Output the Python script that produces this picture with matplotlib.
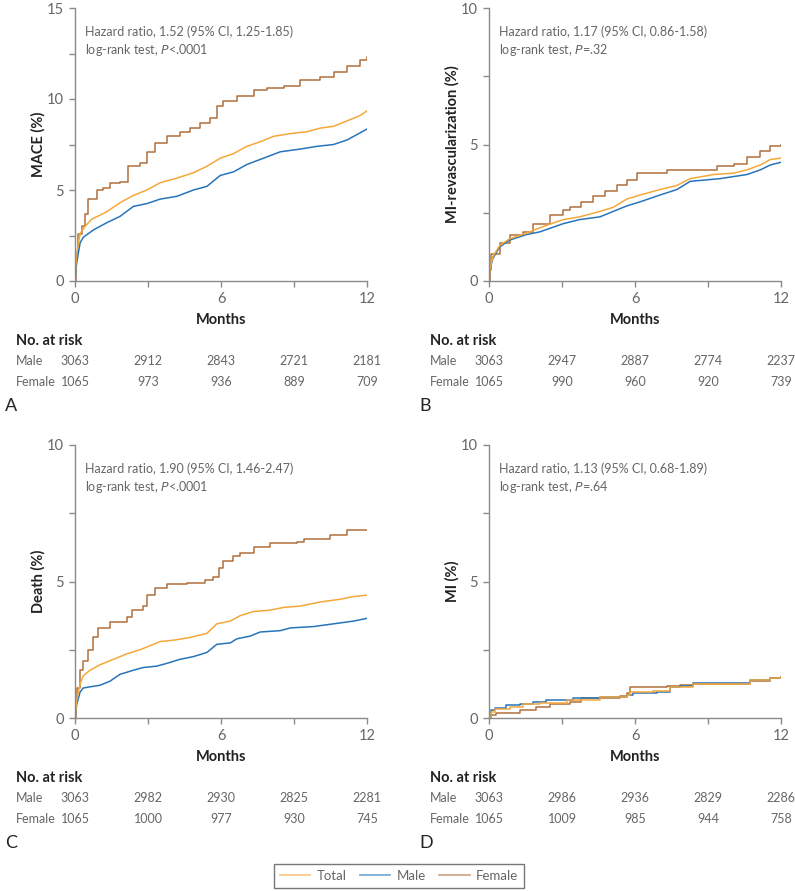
import matplotlib

matplotlib.use("Agg")

import matplotlib.pyplot as plt
from matplotlib.lines import Line2D
from matplotlib.transforms import blended_transform_factory

plt.rcParams["font.family"] = ["Lato", "DejaVu Sans"]

TOTAL_C = "#F5A83A"
MALE_C = "#2874BB"
FEMALE_C = "#B0703C"
TEXT_C = "#666666"
DARK_C = "#222222"
AXIS_C = "#8a8a8a"

# ---- Panel A: MACE ----
A_FEMALE_T = [0, 0.05, 0.14, 0.27, 0.41, 0.55, 0.89, 1.17, 1.44, 1.85, 2.19, 2.67, 2.95, 3.29, 3.77,
              4.32, 4.73, 5.14, 5.56, 5.83, 6.1, 6.65, 7.34, 7.89, 8.57, 9.26, 10.08, 10.63, 11.18, 11.73, 12]
A_FEMALE_Y = [0, 1.5, 2.6, 3.0, 3.7, 4.5, 5.0, 5.1, 5.4, 5.45, 6.3, 6.5, 7.1, 7.6, 7.95,
              8.2, 8.4, 8.7, 8.95, 9.6, 9.9, 10.15, 10.5, 10.6, 10.7, 11.05, 11.2, 11.5, 11.8, 12.15, 12.3]
A_TOTAL_T = [0, 0.03, 0.07, 0.21, 0.41, 0.69, 1.3, 1.85, 2.4, 2.95, 3.5, 4.18, 4.87, 5.42, 5.97,
             6.52, 7.06, 7.61, 8.16, 8.85, 9.53, 10.08, 10.63, 11.18, 11.73, 12]
A_TOTAL_Y = [0, 0.8, 1.5, 2.6, 3.0, 3.4, 3.8, 4.3, 4.7, 5.0, 5.4, 5.65, 5.95, 6.3, 6.75,
             7.0, 7.4, 7.65, 7.95, 8.1, 8.2, 8.4, 8.5, 8.8, 9.1, 9.35]
A_MALE_T = [0, 0.03, 0.07, 0.21, 0.34, 0.75, 1.3, 1.85, 2.4, 2.95, 3.5, 4.18, 4.87, 5.42, 5.97,
            6.52, 7.06, 7.75, 8.44, 9.26, 9.95, 10.63, 11.18, 11.73, 12]
A_MALE_Y = [0, 0.5, 1.0, 2.1, 2.4, 2.8, 3.2, 3.55, 4.1, 4.25, 4.5, 4.65, 5.0, 5.2, 5.8,
            6.0, 6.4, 6.75, 7.1, 7.25, 7.4, 7.5, 7.75, 8.15, 8.35]

# ---- Panel B: MI-revascularization ----
B_FEMALE_T = [0, 0.03, 0.1, 0.44, 0.85, 1.4, 1.81, 2.5, 3.05, 3.32, 3.8, 4.28, 4.76, 5.24, 5.66,
              6.07, 7.3, 9.36, 10.05, 10.6, 11.15, 11.56, 12]
B_FEMALE_Y = [0, 0.4, 1.0, 1.4, 1.7, 1.8, 2.1, 2.4, 2.6, 2.7, 2.9, 3.1, 3.3, 3.5, 3.7,
              3.97, 4.07, 4.2, 4.3, 4.55, 4.75, 4.95, 4.97]
B_TOTAL_T = [0, 0.03, 0.16, 0.44, 0.85, 1.54, 2.09, 3.05, 3.73, 4.56, 5.11, 5.66, 6.21, 7.03, 7.72,
             8.27, 9.23, 10.05, 10.6, 11.15, 11.56, 12]
B_TOTAL_Y = [0, 0.4, 0.9, 1.3, 1.55, 1.75, 1.95, 2.25, 2.35, 2.55, 2.7, 3.0, 3.15, 3.35, 3.5,
             3.75, 3.9, 3.95, 4.07, 4.25, 4.45, 4.5]
B_MALE_T = [0, 0.03, 0.16, 0.44, 0.85, 1.54, 2.09, 3.05, 3.73, 4.56, 5.11, 5.66, 6.21, 7.03, 7.72,
            8.27, 9.5, 10.6, 11.15, 11.56, 12]
B_MALE_Y = [0, 0.4, 0.83, 1.25, 1.5, 1.7, 1.8, 2.1, 2.25, 2.35, 2.55, 2.75, 2.9, 3.15, 3.35,
            3.65, 3.75, 3.9, 4.07, 4.25, 4.35]

# ---- Panel C: Death ----
C_FEMALE_T = [0, 0.03, 0.1, 0.2, 0.34, 0.55, 0.75, 0.96, 1.44, 2.13, 2.33, 2.81, 2.95, 3.29, 3.77,
              4.6, 5.35, 5.69, 5.9, 6.1, 6.5, 6.79, 7.34, 8.02, 9.12, 9.4, 10.49, 11.18, 12]
C_FEMALE_Y = [0, 0.6, 1.1, 1.75, 2.1, 2.5, 2.95, 3.3, 3.5, 3.7, 3.95, 4.1, 4.5, 4.75, 4.9,
              4.95, 5.05, 5.15, 5.5, 5.75, 5.95, 6.05, 6.25, 6.4, 6.45, 6.55, 6.7, 6.9, 6.9]
C_TOTAL_T = [0, 0.07, 0.21, 0.34, 0.62, 1.03, 1.58, 2.13, 2.67, 2.95, 3.5, 4.05, 4.73, 5.42, 5.83,
             6.38, 6.79, 7.34, 8.02, 8.57, 9.26, 10.08, 10.9, 11.45, 12]
C_TOTAL_Y = [0, 0.65, 1.25, 1.55, 1.75, 1.95, 2.15, 2.35, 2.5, 2.6, 2.8, 2.85, 2.95, 3.1, 3.45,
             3.55, 3.75, 3.9, 3.95, 4.05, 4.1, 4.25, 4.35, 4.45, 4.5]
C_MALE_T = [0, 0.07, 0.21, 0.34, 1.03, 1.44, 1.85, 2.4, 2.81, 3.36, 3.77, 4.32, 4.87, 5.42, 5.83,
            6.38, 6.65, 7.2, 7.61, 8.44, 8.85, 9.81, 10.63, 11.45, 12]
C_MALE_Y = [0, 0.5, 0.95, 1.1, 1.2, 1.35, 1.6, 1.75, 1.85, 1.9, 2.0, 2.15, 2.25, 2.4, 2.7,
            2.75, 2.9, 3.0, 3.15, 3.2, 3.3, 3.35, 3.45, 3.55, 3.65]

# ---- Panel D: MI ----
D_FEMALE_T = [0, 0.1, 0.3, 1.26, 1.95, 2.5, 3.32, 3.8, 5.38, 5.66, 5.79, 7.3, 7.85, 8.4, 10.74, 11.56, 12]
D_FEMALE_Y = [0, 0.1, 0.2, 0.3, 0.4, 0.5, 0.6, 0.75, 0.8, 0.9, 1.15, 1.17, 1.2, 1.25, 1.35, 1.45, 1.5]
D_TOTAL_T = [0, 0.1, 0.23, 0.85, 1.4, 2.09, 3.19, 4.56, 5.66, 5.79, 6.76, 7.44, 8.4, 10.74, 11.56, 12]
D_TOTAL_Y = [0, 0.22, 0.34, 0.4, 0.5, 0.55, 0.65, 0.78, 0.83, 0.95, 1.0, 1.12, 1.25, 1.38, 1.47, 1.5]
D_MALE_T = [0, 0.1, 0.23, 0.71, 1.26, 1.81, 2.36, 3.46, 4.56, 5.66, 5.93, 6.89, 7.44, 7.85, 8.4,
            9.36, 10.74, 11.56, 12]
D_MALE_Y = [0, 0.28, 0.38, 0.46, 0.52, 0.59, 0.65, 0.73, 0.78, 0.83, 0.9, 0.95, 1.13, 1.17, 1.27,
            1.28, 1.4, 1.48, 1.5]

RISK_MONTHS = [0, 3, 6, 9, 12]
A_RISK_MALE = [3063, 2912, 2843, 2721, 2181]
A_RISK_FEMALE = [1065, 973, 936, 889, 709]
B_RISK_MALE = [3063, 2947, 2887, 2774, 2237]
B_RISK_FEMALE = [1065, 990, 960, 920, 739]
C_RISK_MALE = [3063, 2982, 2930, 2825, 2281]
C_RISK_FEMALE = [1065, 1000, 977, 930, 745]
D_RISK_MALE = [3063, 2986, 2936, 2829, 2286]
D_RISK_FEMALE = [1065, 1009, 985, 944, 758]

W, H = 795, 891


def px_x(x):
    return x / W


def px_y(y):
    return 1 - y / H


def draw_panel(fig, left_px, top_px, ymax, ylabel, letter, stats,
               female, total, male, risk_male, risk_female, smooth=True):
    ax_w, ax_h = 292, 273
    ax = fig.add_axes([px_x(left_px), px_y(top_px + ax_h), ax_w / W, ax_h / H])
    lw = 1.1
    # dense KM curves of the large groups look smooth in the original
    ds = "default" if smooth else "steps-post"
    ax.plot(*female, drawstyle="steps-post", color=FEMALE_C, lw=lw)
    ax.plot(*male, drawstyle=ds, color=MALE_C, lw=lw)
    ax.plot(*total, drawstyle=ds, color=TOTAL_C, lw=lw)

    ax.set_xlim(0, 12)
    ax.set_ylim(0, ymax)
    ax.set_xticks([0, 6, 12])
    ax.set_xticks([3, 9], minor=True)
    ax.set_yticks(list(range(0, ymax + 1, 5)))
    ax.set_yticks([v + 2.5 for v in range(0, ymax, 5)], minor=True)
    for side in ("top", "right"):
        ax.spines[side].set_visible(False)
    for side in ("left", "bottom"):
        ax.spines[side].set_color(AXIS_C)
        ax.spines[side].set_linewidth(1.0)
    ax.tick_params(which="both", direction="out", length=4, width=1.0, color=AXIS_C,
                   labelcolor=TEXT_C, labelsize=10.5, pad=4)

    ax.text(-37 / ax_w, 0.5, ylabel, transform=ax.transAxes, rotation=90,
            ha="center", va="center", fontsize=10.5, fontweight="bold", color=DARK_C)
    ax.text(0.034, 1 - 17 / ax_h, stats, transform=ax.transAxes, ha="left", va="top",
            fontsize=9, color=TEXT_C, linespacing=1.4)

    base = top_px + ax_h
    fig.text(px_x(left_px + ax_w / 2), px_y(base + 39), "Months", ha="center", va="center",
             fontsize=10.5, fontweight="bold", color=DARK_C)
    lab_x = left_px - 59
    fig.text(px_x(lab_x), px_y(base + 60), "No. at risk", ha="left", va="center",
             fontsize=10.5, fontweight="bold", color=DARK_C)
    trans = blended_transform_factory(ax.transData, fig.transFigure)
    for row_y, name, vals in ((base + 80, "Male", risk_male), (base + 101, "Female", risk_female)):
        fig.text(px_x(lab_x), px_y(row_y), name, ha="left", va="center", fontsize=9, color=TEXT_C)
        for m, v in zip(RISK_MONTHS, vals):
            ax.text(m, px_y(row_y), f"{v}", transform=trans, ha="center", va="center",
                    fontsize=9, color=TEXT_C)
    fig.text(px_x(left_px - 70), px_y(base + 125), letter, ha="left", va="center",
             fontsize=13, color=DARK_C)
    return ax


fig = plt.figure(figsize=(W / 100, H / 100), dpi=100)

draw_panel(fig, 75, 8, 15, "MACE (%)", "A",
           "Hazard ratio, 1.52 (95% CI, 1.25-1.85)\nlog-rank test, $\\it{P}$<.0001",
           (A_FEMALE_T, A_FEMALE_Y), (A_TOTAL_T, A_TOTAL_Y), (A_MALE_T, A_MALE_Y),
           A_RISK_MALE, A_RISK_FEMALE)
draw_panel(fig, 489, 8, 10, "MI-revascularization (%)", "B",
           "Hazard ratio, 1.17 (95% CI, 0.86-1.58)\nlog-rank test, $\\it{P}$=.32",
           (B_FEMALE_T, B_FEMALE_Y), (B_TOTAL_T, B_TOTAL_Y), (B_MALE_T, B_MALE_Y),
           B_RISK_MALE, B_RISK_FEMALE)
draw_panel(fig, 75, 445, 10, "Death (%)", "C",
           "Hazard ratio, 1.90 (95% CI, 1.46-2.47)\nlog-rank test, $\\it{P}$<.0001",
           (C_FEMALE_T, C_FEMALE_Y), (C_TOTAL_T, C_TOTAL_Y), (C_MALE_T, C_MALE_Y),
           C_RISK_MALE, C_RISK_FEMALE)
draw_panel(fig, 489, 445, 10, "MI (%)", "D",
           "Hazard ratio, 1.13 (95% CI, 0.68-1.89)\nlog-rank test, $\\it{P}$=.64",
           (D_FEMALE_T, D_FEMALE_Y), (D_TOTAL_T, D_TOTAL_Y), (D_MALE_T, D_MALE_Y),
           D_RISK_MALE, D_RISK_FEMALE, smooth=False)

handles = [
    Line2D([], [], color=TOTAL_C, lw=1.3, alpha=0.6),
    Line2D([], [], color=MALE_C, lw=1.3, alpha=0.6),
    Line2D([], [], color=FEMALE_C, lw=1.3, alpha=0.6),
]
leg = fig.legend(handles, ["Total", "Male", "Female"], loc="center",
                 bbox_to_anchor=(px_x(399), px_y(876)), ncol=3, frameon=True, fancybox=False,
                 fontsize=9.5, handlelength=2.3, handletextpad=0.5, columnspacing=1.0,
                 borderpad=0.45)
leg.get_frame().set_edgecolor("#555555")
leg.get_frame().set_linewidth(1.0)
for t in leg.get_texts():
    t.set_color(TEXT_C)

fig.savefig("out.png", dpi=100)
